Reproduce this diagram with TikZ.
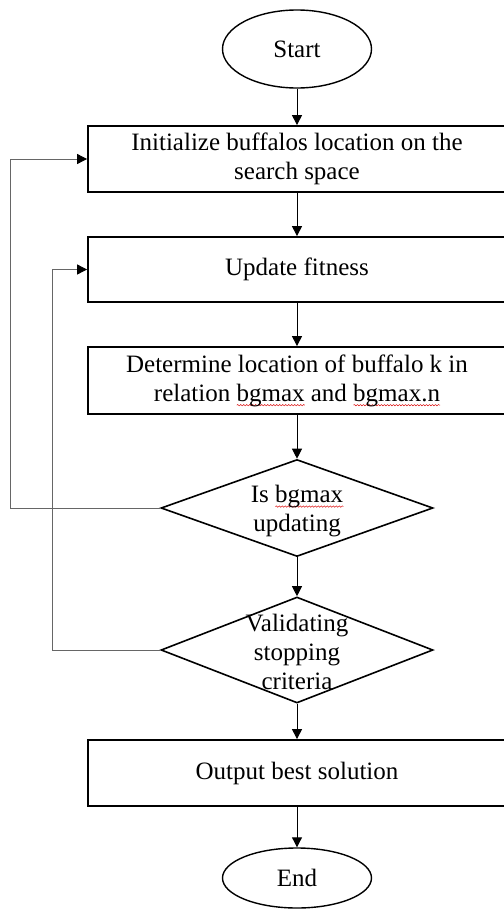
\documentclass[tikz,border=0pt]{standalone}
\usepackage{fontspec}
\setmainfont{Liberation Serif}
\usetikzlibrary{shapes.geometric,arrows.meta,decorations.pathmorphing}

% red wavy underline drawn under a word, the word itself stays black
\newlength\squigwd
\newcommand\squig[1]{\settowidth\squigwd{#1}\rlap{\raisebox{-5bp}{\tikz\draw[red!85!black, line width=0.45bp, decorate, decoration={snake, segment length=3bp, amplitude=0.7bp}] (0pt,0pt) -- (\squigwd,0pt);}}#1}

\begin{document}
\begin{tikzpicture}[x=1bp, y=-1bp,
  txt/.style={font=\fontsize{25bp}{29bp}\selectfont, align=center},
  procbox/.style={draw, line width=1.8bp, minimum width=418bp, minimum height=66bp, inner sep=0pt, txt},
  terminal/.style={draw, ellipse, line width=1.4bp, minimum width=149bp, inner sep=0pt, txt},
  decision/.style={draw, diamond, line width=1.6bp, minimum width=272bp, minimum height=97bp, inner sep=0pt},
  flow/.style={line width=1bp, -{Triangle[width=10bp, length=10bp]}},
  loopback/.style={draw=black!60, line width=0.9bp, -{Triangle[width=10bp, length=10bp, color=black]}}
]
\useasboundingbox (0,0) rectangle (504,910);

% main column
\node[terminal, minimum height=78bp] (start) at (297,49) {Start};
\node[procbox] (init) at (297,159) {Initialize buffalos location on the\\search space};
\node[procbox, minimum height=65bp] (fit) at (297,269.5) {Update fitness};
\node[procbox, minimum height=67bp] (loc) at (297,380.5) {Determine location of buffalo k in\\relation \squig{bgmax} and \squig{bgmax.n}};
\node[decision] (upd) at (297,508) {};
\node[txt] (updtxt) at (297,511) {Is \squig{bgmax}\\updating};
\node[decision, minimum height=106bp] (stop) at (297,650) {};
\node[txt] (stoptxt) at (297,652) {Validating\\stopping\\criteria};
\node[procbox] (out) at (297,773) {Output best solution};
\node[terminal, minimum height=60bp] (end) at (297,878) {End};

% left rails of the two feedback loops
\coordinate (outerrail) at (10,0);
\coordinate (innerrail) at (52,0);

% forward flow
\draw[flow] (start) -- (init);
\draw[flow] (init) -- (fit);
\draw[flow] (fit) -- (loc);
\draw[flow] (loc) -- (upd.north);
\draw[flow] (upd.south) -- (stop.north);
\draw[flow] (stop.south) -- (out);
\draw[flow] (out) -- (end);

% feedback loops
\draw[loopback] (upd.west) -- (upd.west -| outerrail) |- (init.west);
\draw[loopback] (stop.west) -- (stop.west -| innerrail) |- (fit.west);
\end{tikzpicture}
\end{document}
